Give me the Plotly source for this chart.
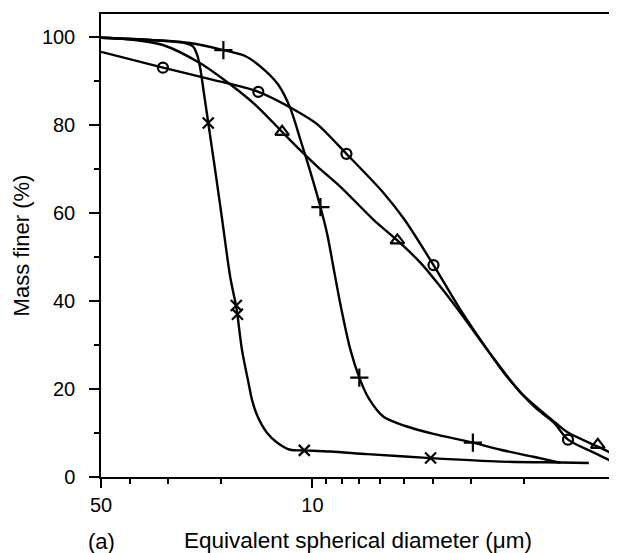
import plotly.graph_objects as go

# ---------------- data ----------------
# Circle series: smooth curve and measured points
circle_curve_d = [50, 31.2, 21.8, 15.1, 11.0, 9.63, 7.72, 5.82, 4.96, 3.98, 3.24,
                  2.64, 2.33, 2.05, 1.80, 1.59, 1.43, 1.17, 1.0]
circle_curve_v = [96.7, 93.1, 90.5, 87.6, 82.8, 80.2, 73.5, 64.6, 58.5, 48.2, 38.0,
                  28.9, 23.7, 19.2, 15.3, 12.3, 8.5, 5.5, 3.25]
circle_pts_d = [31.2, 15.1, 7.72, 3.98, 1.43]
circle_pts_v = [93.1, 87.6, 73.5, 48.2, 8.5]

# Triangle series
tri_curve_d = [50, 38.6, 31.2, 23.5, 18.3, 15.2, 12.6, 11.0, 9.63, 8.08, 6.28,
               5.24, 4.39, 3.77, 3.24, 2.64, 2.05, 1.59, 1.43, 1.14, 1.0]
tri_curve_v = [99.9, 99.4, 98.25, 94.1, 88.8, 84.2, 78.5, 74.4, 70.6, 66.0, 58.5,
               53.8, 48.7, 43.2, 37.3, 28.9, 19.2, 12.6, 10.1, 6.9, 5.07]
tri_pts_d = [12.6, 5.24, 1.14]
tri_pts_v = [78.5, 53.8, 7.3]

# Plus series
plus_curve_d = [50, 34.4, 25.4, 19.7, 16.7, 14.65, 12.97, 11.84, 10.96, 10.16, 9.41,
                8.93, 8.52, 8.08, 7.49, 7.0, 6.53, 5.82, 4.93, 3.98, 2.95, 2.39,
                1.86, 1.51]
plus_curve_v = [99.9, 99.4, 98.7, 97.1, 95.75, 93.0, 89.2, 83.9, 76.7, 69.4, 61.4,
                55.1, 47.6, 39.2, 28.9, 22.6, 18.0, 13.7, 11.6, 9.8, 7.8, 6.2,
                4.6, 3.2]
plus_pts_d = [19.7, 9.41, 7.0, 2.95]
plus_pts_v = [97.1, 61.4, 22.6, 7.8]

# Cross series
cross_curve_d = [50, 34.4, 26.4, 24.8, 24.05, 23.5, 22.8, 22.1, 21.45, 20.97, 19.88,
                 18.7, 17.86, 17.7, 17.1, 16.27, 15.85, 15.19, 14.14, 13.07, 11.84,
                 10.64, 8.72, 6.58, 4.07, 2.39, 1.51, 1.22]
cross_curve_v = [99.9, 99.4, 98.7, 97.9, 96.0, 93.0, 86.9, 80.5, 74.4, 69.8, 58.5,
                 45.5, 38.7, 36.9, 28.9, 21.4, 17.6, 13.8, 10.07, 7.8, 6.2,
                 6.05, 5.8, 5.2, 4.3, 3.5, 3.3, 3.2]
cross_pts_d = [22.1, 17.86, 17.7, 10.64, 4.07]
cross_pts_v = [80.5, 39.0, 37.0, 6.05, 4.3]

x_tick_vals = [50, 10, 1]
x_tick_text = ["50", "10", "1"]
x_minor_vals = [40, 30, 20, 9, 8, 7, 6, 5, 4, 3, 2]
y_tick_vals = [0, 20, 40, 60, 80, 100]

FONT = "Liberation Sans, Arial, sans-serif"
LINE = dict(color="black", width=2.4, shape="spline", smoothing=0.8)

fig = go.Figure()

series = [
    (circle_curve_d, circle_curve_v, circle_pts_d, circle_pts_v, "circle-open", 10),
    (tri_curve_d, tri_curve_v, tri_pts_d, tri_pts_v, "triangle-up-open", 12),
    (plus_curve_d, plus_curve_v, plus_pts_d, plus_pts_v, "cross-thin-open", 13),
    (cross_curve_d, cross_curve_v, cross_pts_d, cross_pts_v, "x-thin-open", 11),
]
for cd, cv, pd_, pv, sym, sz in series:
    fig.add_trace(go.Scatter(x=cd, y=cv, mode="lines", line=LINE,
                             hoverinfo="skip", showlegend=False))
    fig.add_trace(go.Scatter(x=pd_, y=pv, mode="markers",
                             marker=dict(symbol=sym, size=sz, color="black",
                                         line=dict(color="black", width=2.2)),
                             showlegend=False))

# The page body has an 8px default margin, so the figure is sized to fit.
fig.update_layout(
    width=609, height=545,
    margin=dict(l=93, r=2, t=6, b=76),
    paper_bgcolor="white", plot_bgcolor="white",
    font=dict(family=FONT, size=20, color="black"),
    xaxis=dict(
        type="log", range=[1.69897, 0], autorange=False,
        tickvals=x_tick_vals, ticktext=x_tick_text,
        ticks="outside", ticklen=9, tickwidth=1.5, tickcolor="black",
        minor=dict(tickvals=x_minor_vals, ticks="outside", ticklen=5,
                   tickwidth=1.5, tickcolor="black"),
        showline=True, linecolor="black", linewidth=1.5, mirror=True,
        showgrid=False, zeroline=False,
        tickfont=dict(size=20),
        title=dict(text="Equivalent spherical diameter (μm)",
                   font=dict(size=22.5), standoff=18),
        automargin=False,
    ),
    yaxis=dict(
        range=[0, 105.3], autorange=False,
        tickvals=y_tick_vals,
        ticks="outside", ticklen=10, tickwidth=1.5, tickcolor="black",
        minor=dict(dtick=10, ticks="outside", ticklen=5,
                   tickwidth=1.5, tickcolor="black"),
        showline=True, linecolor="black", linewidth=1.5, mirror=True,
        showgrid=False, zeroline=False,
        tickfont=dict(size=20), ticklabelstandoff=10,
        title=dict(text="Mass finer (%)", font=dict(size=22), standoff=6),
        automargin=False,
    ),
)

fig.add_annotation(text="(a)", xref="paper", yref="paper", x=0.0, y=-0.14,
                   xanchor="center", yanchor="middle", showarrow=False,
                   font=dict(size=22))

fig.write_html("out.html")
